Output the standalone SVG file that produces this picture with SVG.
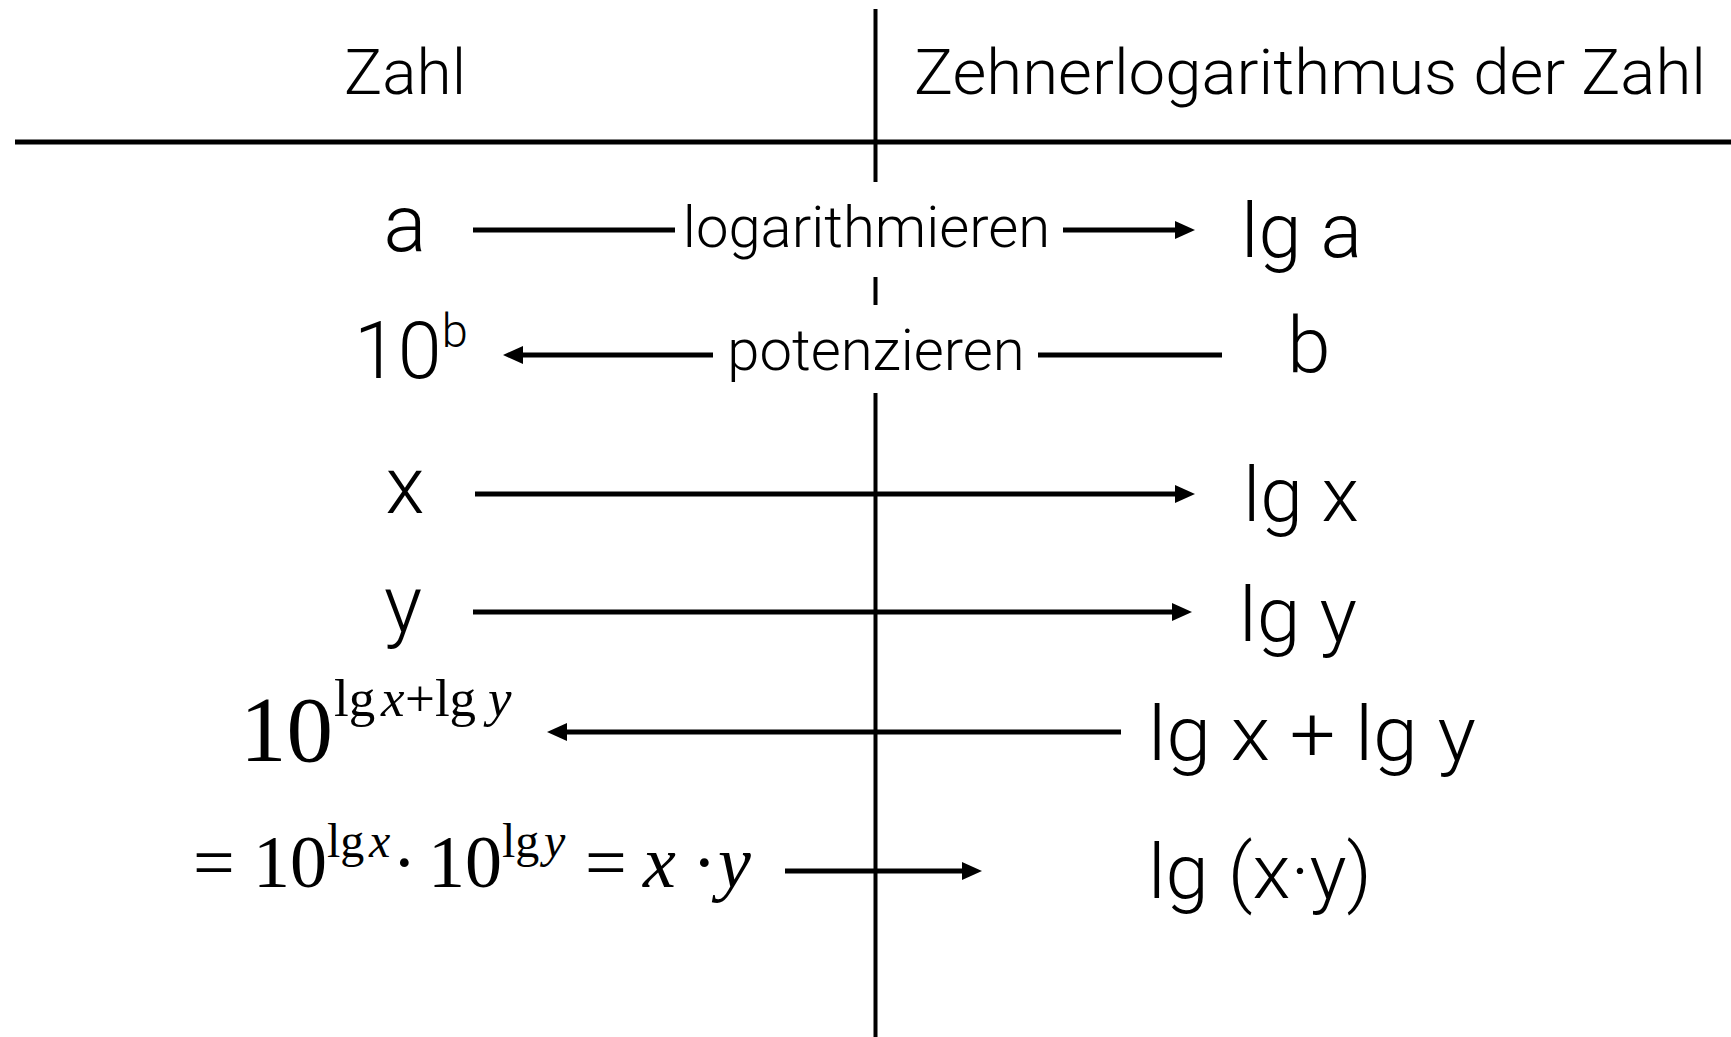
<svg xmlns="http://www.w3.org/2000/svg" width="1731" height="1037" viewBox="0 0 1731 1037">
<style>
.s{font-family:Roboto,"Liberation Sans",sans-serif;font-weight:300;fill:#000}
.m{font-family:"Liberation Serif","Times New Roman",serif;fill:#000}
.i{font-style:italic}
.ln{stroke:#000;stroke-width:5;fill:none}
.bg{fill:#fff}
</style>
<defs>
<marker id="ah" markerUnits="userSpaceOnUse" markerWidth="20" markerHeight="18" refX="5" refY="9" orient="auto">
<path d="M0,0 L20,9 L0,18 z" fill="#000"/>
</marker>
</defs>
<rect width="1731" height="1037" fill="#fff"/>
<g id="grid">
<line x1="15" y1="142" x2="1731" y2="142" stroke="#000" stroke-width="5"/>
<line x1="875.5" y1="9" x2="875.5" y2="1037" stroke="#000" stroke-width="4"/>
</g>
<g id="header-zahl"><text class="s" x="344" y="94" font-size="63" textLength="122" lengthAdjust="spacingAndGlyphs">Zahl</text></g>
<g id="header-log"><text class="s" x="914" y="94" font-size="63" textLength="792" lengthAdjust="spacingAndGlyphs">Zehnerlogarithmus der Zahl</text></g>
<g id="label-logarithmieren"><rect class="bg" x="676" y="182" width="386" height="95"/><text class="s" x="866.5" y="247" font-size="58" text-anchor="middle">logarithmieren</text></g>
<g id="label-potenzieren"><rect class="bg" x="714" y="305" width="323" height="88"/><text class="s" x="876" y="370" font-size="58" text-anchor="middle">potenzieren</text></g>
<g id="n-a"><text class="s" x="405" y="251" font-size="80" text-anchor="middle">a</text></g>
<g id="n-10b"><text class="s" x="354" y="378" font-size="79">10<tspan font-size="47" y="347">b</tspan></text></g>
<g id="n-x"><text class="s" x="405" y="513" font-size="80" text-anchor="middle">x</text></g>
<g id="n-y"><text class="s" x="403" y="632" font-size="80" text-anchor="middle">y</text></g>
<g id="n-lga"><text class="s" x="1241" y="257" font-size="76" textLength="121" lengthAdjust="spacingAndGlyphs">lg a</text></g>
<g id="n-b"><text class="s" x="1309" y="372" font-size="78" text-anchor="middle">b</text></g>
<g id="n-lgx"><text class="s" x="1243" y="521" font-size="76" textLength="116" lengthAdjust="spacingAndGlyphs">lg x</text></g>
<g id="n-lgy"><text class="s" x="1239" y="641" font-size="76" textLength="118" lengthAdjust="spacingAndGlyphs">lg y</text></g>
<g id="n-sum"><text class="s" x="1148" y="760" font-size="76" textLength="328" lengthAdjust="spacingAndGlyphs">lg x + lg y</text></g>
<g id="n-prod"><text class="s" x="1148" y="898" font-size="76" textLength="224" lengthAdjust="spacingAndGlyphs">lg (x·y)</text></g>
<g id="n-pow-sum"><text class="m" y="761"><tspan x="240" font-size="93">10</tspan><tspan x="334" y="716" font-size="53">lg</tspan><tspan class="i" font-size="53" x="381">x</tspan><tspan font-size="53" x="405">+lg</tspan><tspan class="i" font-size="53" x="488">y</tspan></text></g>
<g id="n-pow-prod"><text class="m" y="887" font-size="74"><tspan x="193">=</tspan><tspan x="253">10</tspan><tspan x="327" y="857" font-size="48">lg</tspan><tspan class="i" x="369" font-size="48">x</tspan><tspan x="392" y="887">·</tspan><tspan x="428">10</tspan><tspan x="502" y="857" font-size="48">lg</tspan><tspan class="i" x="544" font-size="48">y</tspan><tspan x="585" y="887">=</tspan><tspan class="i" x="643">x</tspan><tspan x="692">·</tspan><tspan class="i" x="718">y</tspan></text></g>
<g id="connectors">
<line class="ln" x1="473" y1="230" x2="675" y2="230"/>
<line class="ln" x1="1063" y1="230" x2="1180" y2="230" marker-end="url(#ah)"/>
<line class="ln" x1="1222" y1="355" x2="1038" y2="355"/>
<line class="ln" x1="713" y1="355" x2="518" y2="355" marker-end="url(#ah)"/>
<line class="ln" x1="475" y1="494" x2="1180" y2="494" marker-end="url(#ah)"/>
<line class="ln" x1="473" y1="612" x2="1177" y2="612" marker-end="url(#ah)"/>
<line class="ln" x1="1121" y1="732" x2="562" y2="732" marker-end="url(#ah)"/>
<line class="ln" x1="785" y1="871" x2="967" y2="871" marker-end="url(#ah)"/>
</g>
</svg>
